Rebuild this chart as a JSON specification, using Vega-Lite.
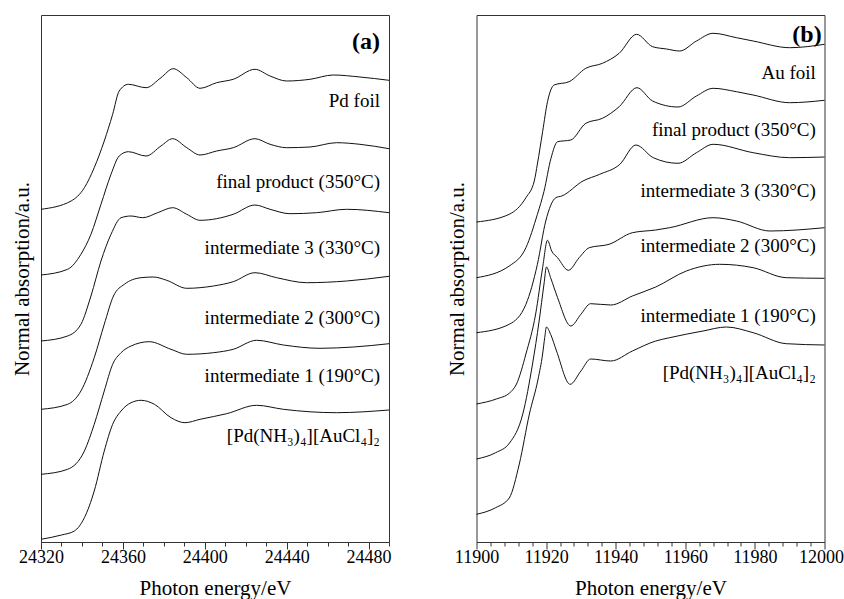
{
  "$schema": "https://vega.github.io/schema/vega-lite/v6.json",
  "padding": {"left": 10, "top": 14, "right": 5, "bottom": 0},
  "background": "white",
  "spacing": 53.5,
  "config": {
    "font": "Liberation Serif",
    "view": {"stroke": "#333", "strokeWidth": 1},
    "axis": {
      "labelFont": "Liberation Serif", "titleFont": "Liberation Serif",
      "labelFontSize": 18, "titleFontSize": 21, "titleFontWeight": "normal",
      "labelColor": "#000", "titleColor": "#000",
      "domainColor": "#333", "tickColor": "#333", "grid": false
    }
  },
  "datasets": {
    "a": [
      {"s":"Pd foil","e":24320,"v":332.7},{"s":"Pd foil","e":24334.7,"v":341},{"s":"Pd foil","e":24341.2,"v":354.3},{"s":"Pd foil","e":24346,"v":374.3},{"s":"Pd foil","e":24350.9,"v":401},{"s":"Pd foil","e":24355,"v":427.7},{"s":"Pd foil","e":24358.2,"v":451},{"s":"Pd foil","e":24362.7,"v":457.7},{"s":"Pd foil","e":24371.3,"v":454.3},{"s":"Pd foil","e":24378.6,"v":464.3},{"s":"Pd foil","e":24384.6,"v":473.3},{"s":"Pd foil","e":24391.2,"v":464.3},{"s":"Pd foil","e":24397.7,"v":453.7},{"s":"Pd foil","e":24405.8,"v":459.3},{"s":"Pd foil","e":24413.9,"v":462.7},{"s":"Pd foil","e":24424.5,"v":472.7},{"s":"Pd foil","e":24431.9,"v":466},{"s":"Pd foil","e":24440,"v":461},{"s":"Pd foil","e":24451.4,"v":462.7},{"s":"Pd foil","e":24462.8,"v":467},{"s":"Pd foil","e":24475.8,"v":465},{"s":"Pd foil","e":24490,"v":461.7},
      {"s":"final","e":24320,"v":267},{"s":"final","e":24333,"v":272.7},{"s":"final","e":24339.5,"v":287.7},{"s":"final","e":24344.4,"v":307.7},{"s":"final","e":24349.3,"v":337.7},{"s":"final","e":24354.2,"v":367.7},{"s":"final","e":24358.2,"v":386},{"s":"final","e":24362.7,"v":390.3},{"s":"final","e":24371.3,"v":386},{"s":"final","e":24378.6,"v":396},{"s":"final","e":24384.3,"v":403.3},{"s":"final","e":24391.2,"v":394.3},{"s":"final","e":24397.7,"v":387},{"s":"final","e":24405.8,"v":391},{"s":"final","e":24413.9,"v":394.3},{"s":"final","e":24424.5,"v":403.3},{"s":"final","e":24431.9,"v":397.7},{"s":"final","e":24440,"v":394.3},{"s":"final","e":24451.4,"v":395},{"s":"final","e":24464.4,"v":399.3},{"s":"final","e":24475.8,"v":397.7},{"s":"final","e":24490,"v":393.3},
      {"s":"int3","e":24320,"v":201},{"s":"int3","e":24333,"v":206},{"s":"int3","e":24339.5,"v":217.7},{"s":"int3","e":24344.4,"v":246},{"s":"int3","e":24349.3,"v":281},{"s":"int3","e":24354.2,"v":307.7},{"s":"int3","e":24359.1,"v":324.3},{"s":"int3","e":24364,"v":326},{"s":"int3","e":24369.7,"v":324.3},{"s":"int3","e":24377,"v":329.3},{"s":"int3","e":24384.3,"v":334.3},{"s":"int3","e":24391.2,"v":327.7},{"s":"int3","e":24397.7,"v":321.7},{"s":"int3","e":24413.9,"v":327.7},{"s":"int3","e":24424.5,"v":337},{"s":"int3","e":24431.9,"v":332.7},{"s":"int3","e":24441.6,"v":328.3},{"s":"int3","e":24454.6,"v":329.3},{"s":"int3","e":24469.3,"v":332.7},{"s":"int3","e":24490,"v":329.3},
      {"s":"int2","e":24320,"v":132.7},{"s":"int2","e":24333,"v":137.7},{"s":"int2","e":24339.5,"v":151},{"s":"int2","e":24346,"v":184.3},{"s":"int2","e":24350.9,"v":217.7},{"s":"int2","e":24355.4,"v":246},{"s":"int2","e":24360.7,"v":257.7},{"s":"int2","e":24368.9,"v":264.3},{"s":"int2","e":24374.9,"v":265},{"s":"int2","e":24381.4,"v":261.7},{"s":"int2","e":24391.2,"v":253.7},{"s":"int2","e":24404.2,"v":256},{"s":"int2","e":24413.9,"v":260.3},{"s":"int2","e":24424.5,"v":269.3},{"s":"int2","e":24435.1,"v":264.3},{"s":"int2","e":24449.8,"v":259.3},{"s":"int2","e":24469.3,"v":261},{"s":"int2","e":24490,"v":265.7},
      {"s":"int1","e":24320,"v":67.7},{"s":"int1","e":24333,"v":72.7},{"s":"int1","e":24341.2,"v":91},{"s":"int1","e":24346,"v":117.7},{"s":"int1","e":24350.9,"v":151},{"s":"int1","e":24355,"v":177.7},{"s":"int1","e":24359.1,"v":189.3},{"s":"int1","e":24364,"v":196},{"s":"int1","e":24372.9,"v":200.3},{"s":"int1","e":24383.5,"v":192.7},{"s":"int1","e":24391.2,"v":187.7},{"s":"int1","e":24404.2,"v":189.3},{"s":"int1","e":24413.9,"v":192.7},{"s":"int1","e":24425.3,"v":201.7},{"s":"int1","e":24438.4,"v":197},{"s":"int1","e":24456.3,"v":193.7},{"s":"int1","e":24472.6,"v":195},{"s":"int1","e":24490,"v":198.3},
      {"s":"complex","e":24320,"v":2.7},{"s":"complex","e":24330,"v":7},{"s":"complex","e":24336.3,"v":11},{"s":"complex","e":24341.2,"v":24.3},{"s":"complex","e":24346,"v":51},{"s":"complex","e":24350.9,"v":91},{"s":"complex","e":24355,"v":117.7},{"s":"complex","e":24359.1,"v":131},{"s":"complex","e":24364,"v":139.3},{"s":"complex","e":24368.9,"v":141.7},{"s":"complex","e":24375.4,"v":137.7},{"s":"complex","e":24383.5,"v":124.3},{"s":"complex","e":24390.3,"v":119.3},{"s":"complex","e":24397.7,"v":122.7},{"s":"complex","e":24410.7,"v":128.3},{"s":"complex","e":24425.3,"v":136.7},{"s":"complex","e":24438.4,"v":132.7},{"s":"complex","e":24464.4,"v":129.3},{"s":"complex","e":24490,"v":132}
    ],
    "b": [
      {"s":"Au foil","e":11900,"v":320},{"s":"Au foil","e":11909.4,"v":327.7},{"s":"Au foil","e":11914.2,"v":344.3},{"s":"Au foil","e":11916.6,"v":361},{"s":"Au foil","e":11917.5,"v":378},{"s":"Au foil","e":11919,"v":410.3},{"s":"Au foil","e":11920.4,"v":440.3},{"s":"Au foil","e":11922.3,"v":457},{"s":"Au foil","e":11926.6,"v":460.3},{"s":"Au foil","e":11931.4,"v":473.7},{"s":"Au foil","e":11936.2,"v":478.7},{"s":"Au foil","e":11941,"v":488.7},{"s":"Au foil","e":11946,"v":507.7},{"s":"Au foil","e":11950.6,"v":495.3},{"s":"Au foil","e":11954.6,"v":493},{"s":"Au foil","e":11958.4,"v":491},{"s":"Au foil","e":11963.2,"v":501},{"s":"Au foil","e":11968,"v":508.7},{"s":"Au foil","e":11974.7,"v":504.3},{"s":"Au foil","e":11979.5,"v":501},{"s":"Au foil","e":11990,"v":494.3},{"s":"Au foil","e":12000,"v":497.7},
      {"s":"final","e":11900,"v":264.3},{"s":"final","e":11909.4,"v":276},{"s":"final","e":11914.2,"v":294.3},{"s":"final","e":11917.5,"v":327.7},{"s":"final","e":11919.4,"v":350.7},{"s":"final","e":11921.4,"v":383.7},{"s":"final","e":11923.3,"v":400.3},{"s":"final","e":11927.1,"v":402},{"s":"final","e":11931.4,"v":418.7},{"s":"final","e":11936.2,"v":423.7},{"s":"final","e":11941,"v":435.3},{"s":"final","e":11946.1,"v":454.3},{"s":"final","e":11950.6,"v":441},{"s":"final","e":11957.9,"v":435},{"s":"final","e":11963.2,"v":446},{"s":"final","e":11968,"v":453.7},{"s":"final","e":11974.7,"v":450.3},{"s":"final","e":11979.5,"v":447},{"s":"final","e":11990,"v":439.3},{"s":"final","e":12000,"v":441.7},
      {"s":"int3","e":11900,"v":209.3},{"s":"int3","e":11909.4,"v":217.7},{"s":"int3","e":11914.2,"v":237.7},{"s":"int3","e":11917.5,"v":277.7},{"s":"int3","e":11919.9,"v":321},{"s":"int3","e":11922.8,"v":344.3},{"s":"int3","e":11924.5,"v":346},{"s":"int3","e":11930.6,"v":361},{"s":"int3","e":11935.4,"v":367.7},{"s":"int3","e":11941.2,"v":377.7},{"s":"int3","e":11945.8,"v":397},{"s":"int3","e":11950.8,"v":384.3},{"s":"int3","e":11957.9,"v":378.7},{"s":"int3","e":11963.2,"v":389.3},{"s":"int3","e":11968,"v":397.7},{"s":"int3","e":11979.5,"v":389.3},{"s":"int3","e":11990,"v":384.3},{"s":"int3","e":12000,"v":385},
      {"s":"int2","e":11900,"v":138},{"s":"int2","e":11905.7,"v":143},{"s":"int2","e":11909.5,"v":149},{"s":"int2","e":11911.5,"v":158},{"s":"int2","e":11914.2,"v":188},{"s":"int2","e":11917,"v":228},{"s":"int2","e":11919,"v":274.3},{"s":"int2","e":11920.4,"v":301.7},{"s":"int2","e":11921.6,"v":291},{"s":"int2","e":11923.3,"v":284.3},{"s":"int2","e":11926.4,"v":271.7},{"s":"int2","e":11929.5,"v":284.3},{"s":"int2","e":11932.4,"v":294.3},{"s":"int2","e":11938.1,"v":297.7},{"s":"int2","e":11944.8,"v":309.3},{"s":"int2","e":11951.5,"v":312},{"s":"int2","e":11955.5,"v":314.3},{"s":"int2","e":11968,"v":324.3},{"s":"int2","e":11974.7,"v":321},{"s":"int2","e":11984.3,"v":311},{"s":"int2","e":12000,"v":314.3},
      {"s":"int1","e":11900,"v":83},{"s":"int1","e":11905.5,"v":89.3},{"s":"int1","e":11909.5,"v":99},{"s":"int1","e":11913.3,"v":128},{"s":"int1","e":11916.1,"v":178},{"s":"int1","e":11918,"v":221},{"s":"int1","e":11919.4,"v":258},{"s":"int1","e":11920.1,"v":275},{"s":"int1","e":11921.3,"v":264.3},{"s":"int1","e":11923.3,"v":244.3},{"s":"int1","e":11927.1,"v":216},{"s":"int1","e":11930,"v":227.7},{"s":"int1","e":11932.8,"v":238.3},{"s":"int1","e":11938.6,"v":237},{"s":"int1","e":11944.8,"v":246},{"s":"int1","e":11951.5,"v":255},{"s":"int1","e":11960.3,"v":271},{"s":"int1","e":11969.9,"v":277.7},{"s":"int1","e":11979.5,"v":274.3},{"s":"int1","e":11989,"v":264.3},{"s":"int1","e":12000,"v":263.7},
      {"s":"complex","e":11900,"v":27.7},{"s":"complex","e":11905.5,"v":34.3},{"s":"complex","e":11909.4,"v":44},{"s":"complex","e":11912.3,"v":78},{"s":"complex","e":11915.2,"v":128},{"s":"complex","e":11917.7,"v":163},{"s":"complex","e":11919,"v":188},{"s":"complex","e":11919.6,"v":204.3},{"s":"complex","e":11920.1,"v":215},{"s":"complex","e":11921.3,"v":207.7},{"s":"complex","e":11923,"v":191},{"s":"complex","e":11926.9,"v":157.7},{"s":"complex","e":11930,"v":171},{"s":"complex","e":11932.8,"v":183},{"s":"complex","e":11938.6,"v":181},{"s":"complex","e":11944.8,"v":191},{"s":"complex","e":11951.5,"v":201},{"s":"complex","e":11955.5,"v":204.3},{"s":"complex","e":11965.1,"v":211},{"s":"complex","e":11971.8,"v":215},{"s":"complex","e":11979.5,"v":209.3},{"s":"complex","e":11989,"v":198.3},{"s":"complex","e":12000,"v":197}
    ],
    "la": [
      {"t":"Pd foil","e":24485.6,"v":441},
      {"t":"final product (350°C)","e":24485.6,"v":360},
      {"t":"intermediate 3 (330°C)","e":24485.6,"v":294},
      {"t":"intermediate 2 (300°C)","e":24485.6,"v":224},
      {"t":"intermediate 1 (190°C)","e":24485.6,"v":166},
      {"t":"[Pd(NH₃)₄][AuCl₄]₂","e":24485.6,"v":106}
    ],
    "lb": [
      {"t":"Au foil","e":11997.5,"v":469},
      {"t":"final product (350°C)","e":11997.5,"v":412},
      {"t":"intermediate 3 (330°C)","e":11997.5,"v":351},
      {"t":"intermediate 2 (300°C)","e":11997.5,"v":296},
      {"t":"intermediate 1 (190°C)","e":11997.5,"v":226},
      {"t":"[Pd(NH₃)₄][AuCl₄]₂","e":11997.5,"v":169}
    ]
  },
  "hconcat": [
    {
      "width": 348, "height": 527,
      "encoding": {
        "x": {"field": "e", "type": "quantitative", "scale": {"domain": [24320, 24490], "nice": false, "zero": false},
          "axis": {"title": "Photon energy/eV", "values": [24320,24330,24340,24350,24360,24370,24380,24390,24400,24410,24420,24430,24440,24450,24460,24470,24480,24490],
            "labelExpr": "datum.value % 40 === 0 ? datum.label : ''", "format": "d",
            "tickSize": {"condition": {"test": "datum.value % 40 === 0", "value": 7}, "value": 4},
            "labelPadding": -1, "titlePadding": 11, "labelFlush": false, "labelOverlap": false}},
        "y": {"field": "v", "type": "quantitative", "scale": {"domain": [0, 527], "nice": false},
          "axis": {"title": "Normal absorption/a.u.", "labels": false, "ticks": false, "domain": false, "titlePadding": 9}}
      },
      "layer": [
        {"data": {"name": "a"}, "mark": {"type": "line", "interpolate": "monotone", "color": "#111", "strokeWidth": 1}, "encoding": {"detail": {"field": "s"}}},
        {"data": {"name": "la"}, "mark": {"type": "text", "align": "right", "baseline": "middle", "fontSize": 19, "font": "Liberation Serif", "color": "#000"}, "encoding": {"text": {"field": "t"}}},
        {"data": {"values": [{"t": "(a)", "e": 24485.6, "v": 500}]}, "mark": {"type": "text", "align": "right", "baseline": "middle", "fontSize": 24, "fontWeight": "bold", "font": "Liberation Serif", "color": "#000"}, "encoding": {"text": {"field": "t"}}}
      ]
    },
    {
      "width": 348, "height": 527,
      "encoding": {
        "x": {"field": "e", "type": "quantitative", "scale": {"domain": [11900, 12000], "nice": false, "zero": false},
          "axis": {"title": "Photon energy/eV", "values": [11900,11904,11908,11912,11916,11920,11924,11928,11932,11936,11940,11944,11948,11952,11956,11960,11964,11968,11972,11976,11980,11984,11988,11992,11996,12000],
            "labelExpr": "datum.value % 20 === 0 ? datum.label : ''", "format": "d",
            "tickSize": {"condition": {"test": "datum.value % 20 === 0", "value": 7}, "value": 4},
            "labelAlign": {"condition": {"test": "datum.value === 12000", "value": "right"}, "value": "center"},
            "labelOffset": {"condition": {"test": "datum.value === 12000", "value": 19}, "value": 0},
            "labelPadding": -1, "titlePadding": 11, "labelFlush": false, "labelOverlap": false}},
        "y": {"field": "v", "type": "quantitative", "scale": {"domain": [0, 527], "nice": false},
          "axis": {"title": "Normal absorption/a.u.", "labels": false, "ticks": false, "domain": false, "titlePadding": 9}}
      },
      "layer": [
        {"data": {"name": "b"}, "mark": {"type": "line", "interpolate": "monotone", "color": "#111", "strokeWidth": 1}, "encoding": {"detail": {"field": "s"}}},
        {"data": {"name": "lb"}, "mark": {"type": "text", "align": "right", "baseline": "middle", "fontSize": 19, "font": "Liberation Serif", "color": "#000"}, "encoding": {"text": {"field": "t"}}},
        {"data": {"values": [{"t": "(b)", "e": 11999.2, "v": 507}]}, "mark": {"type": "text", "align": "right", "baseline": "middle", "fontSize": 24, "fontWeight": "bold", "font": "Liberation Serif", "color": "#000"}, "encoding": {"text": {"field": "t"}}}
      ]
    }
  ]
}
